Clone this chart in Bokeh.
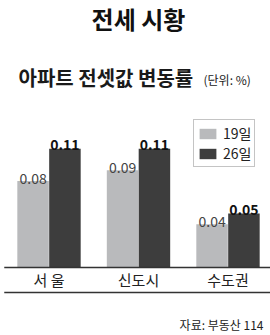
from bokeh.plotting import figure
from bokeh.models import ColumnDataSource, Range1d, Label, Legend, LegendItem
from bokeh.core.properties import value
from bokeh.embed import file_html
from bokeh.resources import INLINE

categories = ["서 울", "신도시", "수도권"]
series_names = ["19일", "26일"]
week19 = [0.08, 0.09, 0.04]
week26 = [0.11, 0.11, 0.05]
labels19 = ["0.08", "0.09", "0.04"]
labels26 = ["0.11", "0.11", "0.05"]

FONT = "Noto Sans CJK KR"
LIGHT = "#b9babc"
DARK = "#3d3d3d"

idx = list(range(len(categories)))
off = 0.178
bw = 0.352
src = ColumnDataSource(dict(
    x19=[i - off for i in idx], x26=[i + off for i in idx], xc=idx,
    v19=week19, v26=week26, l19=labels19, l26=labels26, cat=categories,
    cy=[-0.0115] * len(idx),
))

p = figure(width=270, height=335, output_backend="svg", toolbar_location=None,
           x_range=Range1d(-0.5419, 2.4749), y_range=Range1d(-0.063, 0.2472),
           min_border=0, min_border_left=0, min_border_right=0,
           min_border_top=0, min_border_bottom=0)
p.axis.visible = False
p.grid.visible = False
p.outline_line_color = None
p.background_fill_color = "white"
p.border_fill_color = "white"

r19 = p.vbar(x="x19", top="v19", width=bw, bottom=0, source=src,
             fill_color=LIGHT, line_color=None)
r26 = p.vbar(x="x26", top="v26", width=bw, bottom=0, source=src,
             fill_color=DARK, line_color=None)

p.text(x="x19", y="v19", text="l19", source=src, text_align="center",
       text_baseline="alphabetic", y_offset=-3, text_font=value(FONT),
       text_font_size="14px", text_color="#444444")
p.text(x="x26", y="v26", text="l26", source=src, text_align="center",
       text_baseline="alphabetic", y_offset=-4, text_font=value(FONT),
       text_font_size="14px", text_font_style="bold", text_color="#111111")

p.text(x="xc", y="cy", text="cat", source=src, text_align="center",
       text_baseline="middle", text_font=value(FONT), text_font_size="15px",
       text_color="#222222")

# axis baseline and bottom rule
p.segment(x0=[-0.50, -0.50], x1=[2.4749, 2.4749], y0=[0, -0.0232], y1=[0, -0.0232],
          line_color="#333333", line_width=1.5)

legend = Legend(items=[LegendItem(label=series_names[0], renderers=[r19]),
                       LegendItem(label=series_names[1], renderers=[r26])],
                location=(193, 168), orientation="vertical",
                border_line_color="#8a8a8a", border_line_width=1,
                background_fill_color="white", background_fill_alpha=1,
                glyph_width=21, glyph_height=13, label_height=13,
                label_standoff=5, spacing=0, padding=3, margin=0,
                label_text_font=FONT, label_text_font_size="14px",
                label_text_color="#222222")
p.add_layout(legend, "center")

p.add_layout(Label(x=138, y=317.5, x_units="screen", y_units="screen",
                   text="전세 시황", text_align="center", text_baseline="middle",
                   text_font=FONT, text_font_size="24px", text_font_style="bold",
                   text_color="#111111"))
p.add_layout(Label(x=18, y=258, x_units="screen", y_units="screen",
                   text="아파트 전셋값 변동률", text_align="left", text_baseline="middle",
                   text_font=FONT, text_font_size="20px", text_font_style="bold",
                   text_color="#1a1a1a"))
p.add_layout(Label(x=203, y=256, x_units="screen", y_units="screen",
                   text="(단위: %)", text_align="left", text_baseline="middle",
                   text_font=FONT, text_font_size="12px", text_color="#222222"))
p.add_layout(Label(x=263, y=11, x_units="screen", y_units="screen",
                   text="자료: 부동산 114", text_align="right", text_baseline="middle",
                   text_font=FONT, text_font_size="12px", text_color="#222222"))

open("out.html", "w").write(file_html(p, INLINE))
